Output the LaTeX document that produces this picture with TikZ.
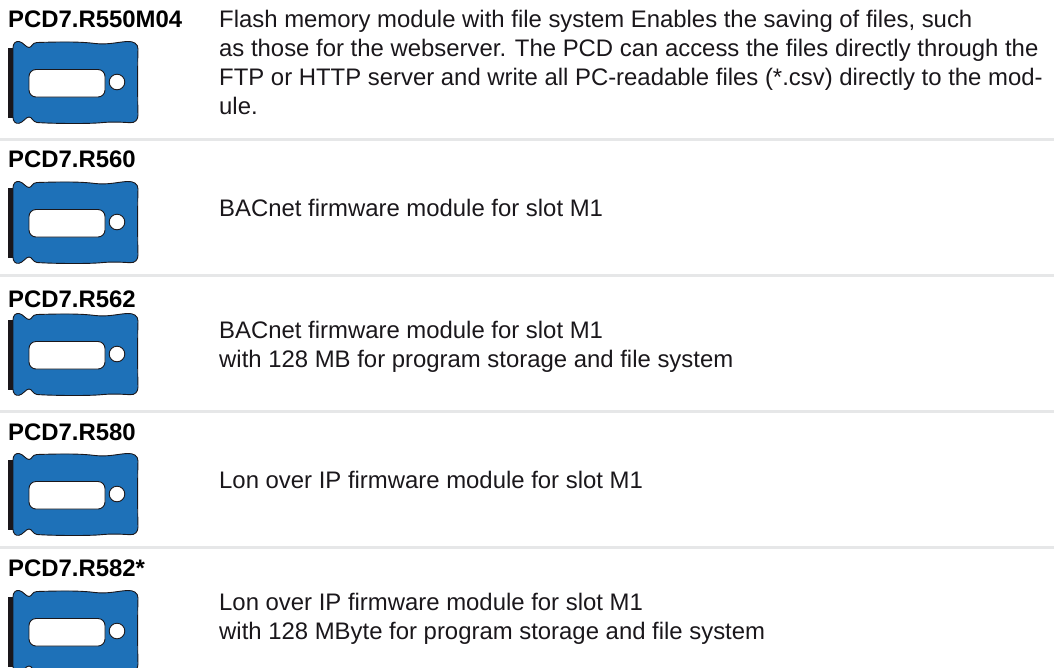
\documentclass[tikz,border=0pt]{standalone}
\usepackage{fontspec}
\setmainfont{Liberation Sans}
\definecolor{modblue}{RGB}{30,113,184}
\definecolor{modblack}{RGB}{26,23,27}
\definecolor{seprule}{RGB}{230,231,232}
\tikzset{
  x=1pt,y=-1pt,
  titletext/.style={anchor=base west,inner sep=0pt,font=\fontsize{23.9}{26}\selectfont\bfseries,text=black},
  bodytext/.style={anchor=base west,inner sep=0pt,font=\fontsize{23.9}{29}\selectfont,text=modblack,align=left},
  seprulestyle/.style={draw=seprule,line width=3pt},
  pics/module/.style={code={
    \fill[modblack] (8,7) rectangle (14,77);
    \draw[fill=modblue,draw=modblack,line width=0.9pt]
      (13,7) .. controls (13,2) and (16,0) .. (19,0.5)
      .. controls (23,1) and (26,6.5) .. (29,6.5)
      .. controls (32,6.5) and (32,1.5) .. (37,1.5)
      .. controls (60,0.8) and (80,0.5) .. (95,2.5)
      .. controls (108,4) and (118,1) .. (127,0.5)
      .. controls (134,0) and (138,3) .. (138,8)
      .. controls (137.5,25) and (137.5,55) .. (138,74)
      .. controls (138,79) and (135,82) .. (130,81.7)
      .. controls (122,81.2) and (112,80.5) .. (100,81.8)
      .. controls (85,83) and (50,82.5) .. (37,81.5)
      .. controls (33,81) and (32,76) .. (29,76)
      .. controls (26,76) and (23,81.5) .. (19,82.3)
      .. controls (15,83) and (13,80) .. (13,76)
      -- cycle;
    \draw[fill=white,draw=modblack,line width=0.9pt,rounded corners=7pt] (29,28.5) rectangle (105,56);
    \draw[fill=white,draw=modblack,line width=0.9pt] (117,41) circle (7.8);
  }}
}
\begin{document}
\begin{tikzpicture}
\useasboundingbox (0,0) rectangle (1054,667);
\pic at (0,41) {module};
\pic at (0,181) {module};
\pic at (0,313) {module};
\pic at (0,453) {module};
\begin{scope}
\clip (0,0) rectangle (1054,667);
\pic at (0,590) {module};
\end{scope}
\draw[seprulestyle] (0,139.5) -- (1054,139.5);
\draw[seprulestyle] (0,275.5) -- (1054,275.5);
\draw[seprulestyle] (0,411.5) -- (1054,411.5);
\draw[seprulestyle] (0,547.5) -- (1054,547.5);
\node[titletext] (t1) at (8,27.5) {PCD7.R550M04};
\node[titletext] (t2) at (8,167.5) {PCD7.R560};
\node[titletext] (t3) at (8,307.5) {PCD7.R562};
\node[titletext] (t4) at (8,440) {PCD7.R580};
\node[titletext] (t5) at (8,576) {PCD7.R582*};
\node[bodytext] (b1a) at (219,27.5) {Flash memory module with file system Enables the saving of files, such};
\node[bodytext] (b1b) at (219,56.5) {as those for the webserver. The PCD can access the files directly through the};
\node[bodytext] (b1c) at (219,85.5) {FTP or HTTP server and write all PC-readable files (*.csv) directly to the mod-};
\node[bodytext] (b1d) at (219,114.5) {ule.};
\node[bodytext] (b2) at (219,216) {BACnet firmware module for slot M1};
\node[bodytext] (b3a) at (219,338) {BACnet firmware module for slot M1};
\node[bodytext] (b3b) at (219,367) {with 128 MB for program storage and file system};
\node[bodytext] (b4) at (219,488) {Lon over IP firmware module for slot M1};
\node[bodytext] (b5a) at (219,610) {Lon over IP firmware module for slot M1};
\node[bodytext] (b5b) at (219,639) {with 128 MByte for program storage and file system};
\end{tikzpicture}
\end{document}
